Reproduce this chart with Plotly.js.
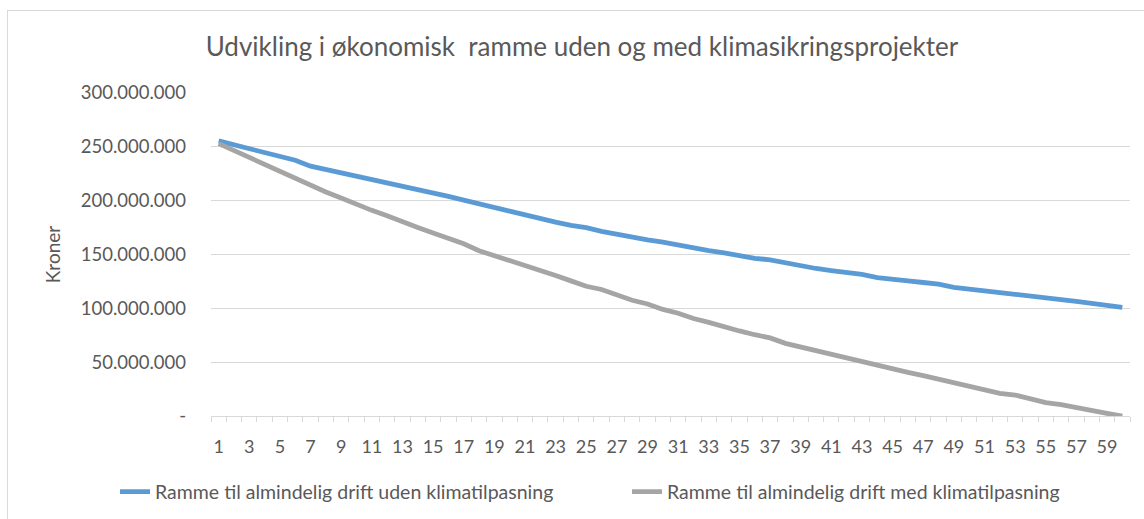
<!DOCTYPE html>
<html>
<head>
<meta charset="utf-8">
<script src="https://cdn.plot.ly/plotly-3.0.1.min.js"></script>
<style>
  html, body { margin: 0; padding: 0; background: #ffffff; }
  #wrap { position: relative; width: 1144px; height: 519px; overflow: hidden; }
  #chart { position: absolute; left: 0; top: 0; width: 1144px; height: 519px; }
  #frame { position: absolute; left: 7px; top: 10px; width: 1200px; height: 600px;
           border: 1px solid #d9d9d9; box-sizing: border-box; pointer-events: none; }
</style>
</head>
<body>
<div id="wrap"><div id="chart"></div><div id="frame"></div></div>
<script>
const categories = [1,2,3,4,5,6,7,8,9,10,11,12,13,14,15,16,17,18,19,20,
  21,22,23,24,25,26,27,28,29,30,31,32,33,34,35,36,37,38,39,40,
  41,42,43,44,45,46,47,48,49,50,51,52,53,54,55,56,57,58,59,60];

// Values in kroner
const udenKlima = [255.5,252,249,245,241,237.5,232,229,226,223,
  220,217,214,211,207.5,204,200.5,197,193,189.5,
  187,183.5,180,177,175,171.5,168.5,166.5,163.5,161.5,
  158.5,156.5,153.5,151.5,148.5,146.5,145,142,140,137,
  135,133.5,131.5,128.5,126.5,125.5,124,122.5,119.5,117.5,
  116,114.5,113,111,109.5,108,106.5,104.5,103,101].map(v => v * 1e6);

const medKlima = [253,246.5,240,233.5,227,221.5,214.5,208,202.5,196.5,
  191,186,180,175,170,165,160,153.5,149,144.5,
  140.5,135.5,130.5,125.5,120.5,117.5,112.5,107.5,104,99,
  95.5,90.5,87,82.5,79,75.5,72.5,67.5,64,61,
  57.5,54,50,46.5,43.5,40.5,37.5,34,31,27.5,
  24.5,21,19.5,16,12.5,10.5,7.5,4.5,2.5,0].map(v => v * 1e6);

const seriesNames = ["Ramme til almindelig drift uden klimatilpasning",
                     "Ramme til almindelig drift med klimatilpasning"];

const yTickVals = [0, 50000000, 100000000, 150000000, 200000000, 250000000, 300000000];
const yTickText = ["-", "50.000.000", "100.000.000", "150.000.000", "200.000.000", "250.000.000", "300.000.000"];
const xTickVals = [1,3,5,7,9,11,13,15,17,19,21,23,25,27,29,31,33,35,37,39,41,43,45,47,49,51,53,55,57,59];
const xTickText = ["1","3","5","7","9","11","13","15","17","19","21","23","25","27","29","31","33","35","37","39","41","43","45","47","49","51","53","55","57","59"];

const FONT = "Lato, 'Open Sans', sans-serif";
const TXT = "#595959";

const traces = [
  { x: categories, y: udenKlima, name: seriesNames[0], type: "scatter", mode: "lines",
    legend: "legend", line: { color: "#5B9BD5", width: 4.8 } },
  { x: categories, y: medKlima, name: seriesNames[1], type: "scatter", mode: "lines",
    legend: "legend2", line: { color: "#A5A5A5", width: 4.8 } }
];

const legendBase = {
  orientation: "h", xref: "container", yref: "container",
  xanchor: "left", y: 1 - 492 / 519, yanchor: "middle",
  font: { family: FONT, size: 19.5, color: TXT },
  itemwidth: 30, bgcolor: "rgba(0,0,0,0)", borderwidth: 0
};

const layout = {
  width: 1144, height: 519,
  paper_bgcolor: "rgba(0,0,0,0)", plot_bgcolor: "#ffffff",
  margin: { l: 211, r: 14, t: 93, b: 103 },
  font: { family: FONT, color: TXT, size: 18 },
  title: { text: "Udvikling i økonomisk  ramme uden og med klimasikringsprojekter",
           font: { family: FONT, size: 26, color: TXT },
           x: 582 / 1144, xanchor: "center", xref: "container",
           y: 1 - 47 / 519, yanchor: "middle", yref: "container" },
  showlegend: true,
  legend: Object.assign({}, legendBase, { x: 115 / 1144 }),
  legend2: Object.assign({}, legendBase, { x: 627 / 1144 }),
  xaxis: {
    range: [0.5, 60.5], showgrid: false, zeroline: false,
    showline: true, linecolor: "#d9d9d9", linewidth: 1,
    tickmode: "array", tickvals: xTickVals, ticktext: xTickText,
    ticks: "", ticklabelstandoff: 14,
    tickfont: { family: FONT, size: 18, color: TXT },
    minor: { tickmode: "linear", tick0: 0.5, dtick: 1, ticks: "outside", ticklen: 5,
             tickcolor: "#d9d9d9", tickwidth: 1, showgrid: false }
  },
  yaxis: {
    range: [0, 300000000], showgrid: true, gridcolor: "#d9d9d9", gridwidth: 1,
    zeroline: false, showline: false,
    tickmode: "array", tickvals: yTickVals, ticktext: yTickText,
    ticks: "", ticklabelstandoff: 24,
    tickfont: { family: FONT, size: 18.5, color: TXT },
    title: { text: "Kroner", font: { family: FONT, size: 19, color: TXT }, standoff: 15 }
  }
};

Plotly.newPlot("chart", traces, layout, { displayModeBar: false, staticPlot: true });
</script>
</body>
</html>
